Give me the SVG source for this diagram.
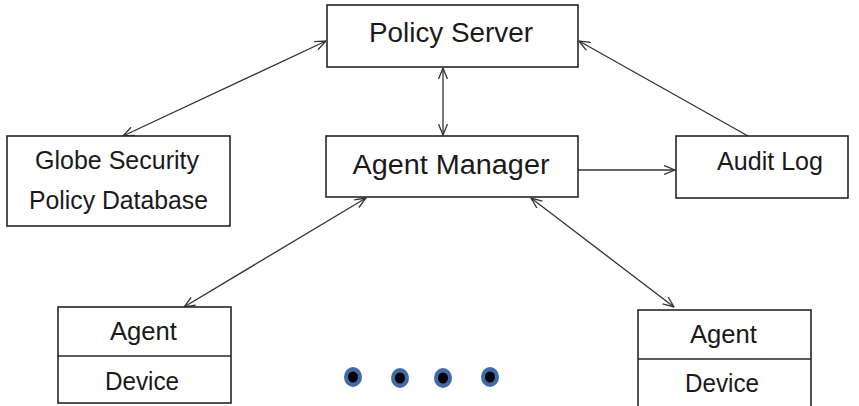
<svg xmlns="http://www.w3.org/2000/svg" width="859" height="406" viewBox="0 0 859 406">
<defs>
<style>
.box{fill:#fff;stroke:#262626;stroke-width:1.6}
.t{font-family:"Liberation Sans",Arial,sans-serif;fill:#1a1a1a;text-anchor:middle}
.c{stroke:#333;stroke-width:1.3;fill:none}
</style>
<marker id="ah" viewBox="0 0 12 10" refX="11.5" refY="5" markerWidth="12" markerHeight="10" markerUnits="userSpaceOnUse" orient="auto-start-reverse">
<path d="M0.5,0.5 L11.5,5 L0.5,9.5" fill="none" stroke="#333" stroke-width="1.3"/>
</marker>
</defs>
<rect width="859" height="406" fill="#fff"/>
<g id="connectors">
<line class="c" x1="443" y1="68" x2="443" y2="135" marker-start="url(#ah)" marker-end="url(#ah)"/>
<line class="c" x1="123" y1="136" x2="326" y2="41" marker-start="url(#ah)" marker-end="url(#ah)"/>
<line class="c" x1="748" y1="136" x2="579" y2="41" marker-end="url(#ah)"/>
<line class="c" x1="578" y1="170" x2="675" y2="170" marker-end="url(#ah)"/>
<line class="c" x1="366" y1="198" x2="184" y2="307" marker-start="url(#ah)" marker-end="url(#ah)"/>
<line class="c" x1="531" y1="198" x2="674" y2="307" marker-start="url(#ah)" marker-end="url(#ah)"/>
</g>
<g id="policy-server">
<rect class="box" x="327" y="5" width="251" height="62"/>
<text class="t" x="451" y="42" font-size="27" textLength="164" lengthAdjust="spacingAndGlyphs">Policy Server</text>
</g>
<g id="agent-manager">
<rect class="box" x="326" y="136" width="252" height="61"/>
<text class="t" x="451" y="174" font-size="27" textLength="197" lengthAdjust="spacingAndGlyphs">Agent Manager</text>
</g>
<g id="audit-log">
<rect class="box" x="676" y="136" width="172" height="62"/>
<text class="t" x="770" y="170" font-size="25" textLength="106" lengthAdjust="spacingAndGlyphs">Audit Log</text>
</g>
<g id="globe-db">
<rect class="box" x="7" y="136" width="223" height="90"/>
<text class="t" x="117" y="169" font-size="25" textLength="164" lengthAdjust="spacingAndGlyphs">Globe Security</text>
<text class="t" x="118.5" y="209" font-size="25" textLength="179" lengthAdjust="spacingAndGlyphs">Policy Database</text>
</g>
<g id="agent-left">
<rect class="box" x="58" y="307" width="173" height="96"/>
<line class="box" x1="58" y1="356" x2="231" y2="356"/>
<text class="t" x="143.5" y="340" font-size="25" textLength="67" lengthAdjust="spacingAndGlyphs">Agent</text>
<text class="t" x="142" y="390" font-size="25" textLength="74" lengthAdjust="spacingAndGlyphs">Device</text>
</g>
<g id="agent-right">
<rect class="box" x="638" y="310" width="173" height="98"/>
<line class="box" x1="638" y1="359" x2="811" y2="359"/>
<text class="t" x="723.5" y="343" font-size="25" textLength="67" lengthAdjust="spacingAndGlyphs">Agent</text>
<text class="t" x="722" y="392" font-size="25" textLength="74" lengthAdjust="spacingAndGlyphs">Device</text>
</g>
<g id="ellipsis">
<g fill="#3f6ca6">
<ellipse cx="353" cy="377" rx="9" ry="10"/>
<ellipse cx="400" cy="378" rx="9" ry="10"/>
<ellipse cx="443" cy="378" rx="9" ry="10"/>
<ellipse cx="490" cy="377" rx="9" ry="10"/>
</g>
<g fill="#000">
<ellipse cx="353" cy="377" rx="5" ry="5.5"/>
<ellipse cx="400" cy="378" rx="5" ry="5.5"/>
<ellipse cx="443" cy="378" rx="5" ry="5.5"/>
<ellipse cx="490" cy="377" rx="5" ry="5.5"/>
</g>
</g>
</svg>
